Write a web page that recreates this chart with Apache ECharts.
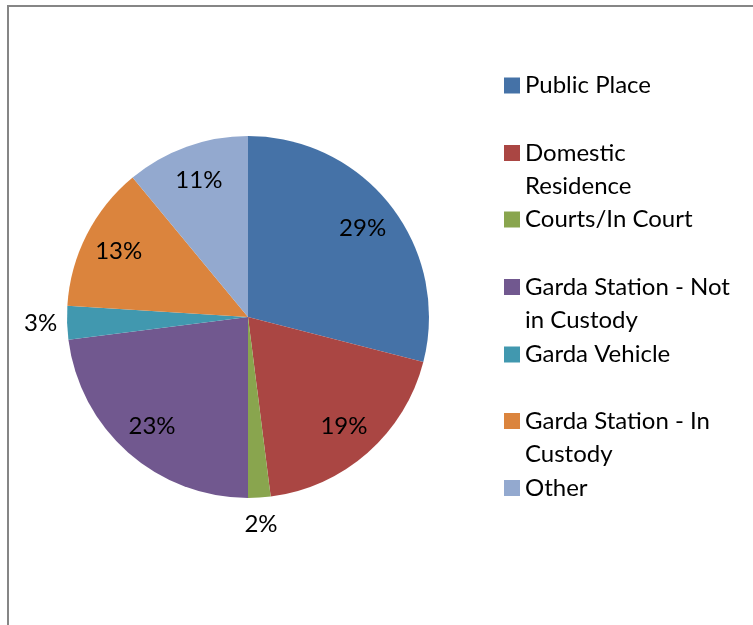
<!DOCTYPE html>
<html>
<head>
<meta charset="utf-8">
<script src="https://cdn.jsdelivr.net/npm/echarts@6/dist/echarts.min.js"></script>
<style>
  html, body { margin: 0; padding: 0; background: #fff; }
  #chart { position: absolute; left: 0; top: 0; width: 753px; height: 625px; }
  #frame {
    position: absolute; left: 7px; top: 5px; width: 746px; height: 620px; z-index: 2;
    border-top: 2px solid #868686; border-left: 2px solid #868686; pointer-events: none;
  }
</style>
</head>
<body>
<div id="chart"></div>
<div id="frame"></div>
<script>
// 数据
const categories = ['Public Place', 'Domestic Residence', 'Courts/In Court', 'Garda Station - Not in Custody', 'Garda Vehicle', 'Garda Station - In Custody', 'Other']
const legendLabels = ['Public Place', 'Domestic\nResidence', 'Courts/In Court', 'Garda Station - Not\nin Custody', 'Garda Vehicle', 'Garda Station - In\nCustody', 'Other']
const shares = [29, 19, 2, 23, 3, 13, 11]
const colors = ['#4572A7', '#AA4643', '#89A54E', '#71588F', '#4198AF', '#DB843D', '#93A9CF']

const FONT = 'Lato'
const FS = 24
const LH = 33
const cx = 248, cy = 317, R = 181
// legend marker centres
const legendCentres = [85.5, 153, 219.5, 287, 354.5, 421, 488]

const chart = echarts.init(document.getElementById('chart'))

const legends = categories.map((name, i) => {
  const twoLines = legendLabels[i].indexOf('\n') >= 0
  return {
    data: [name],
    left: 504,
    top: twoLines ? legendCentres[i] - LH * 1.5 : legendCentres[i] - LH / 2,
    padding: 0,
    itemWidth: 16,
    itemHeight: 16,
    itemGap: 0,
    selectedMode: false,
    icon: 'rect',
    // 两行文字：在前面加一个空行，让方块对齐第一行
    formatter: () => (twoLines ? '\n' : '') + legendLabels[i],
    textStyle: {
      fontFamily: FONT,
      fontSize: FS,
      color: '#000',
      lineHeight: LH
    }
  }
})

const labelStyle = {
  show: true,
  position: 'inside',
  formatter: '{c}%',
  fontFamily: FONT,
  fontSize: FS,
  color: '#000'
}

const option = {
  backgroundColor: '#fff',
  animation: false,
  color: colors,
  legend: legends,
  series: [
    {
      name: 'main',
      type: 'pie',
      center: [cx, cy],
      radius: R,
      startAngle: 90,
      clockwise: true,
      silent: true,
      label: { show: false },
      labelLine: { show: false },
      data: categories.map((n, i) => ({ name: n, value: shares[i] }))
    },
    {
      // 内部标签
      name: 'innerLabels',
      type: 'pie',
      center: [cx, cy],
      radius: [R * 0.57, R],
      startAngle: 90,
      silent: true,
      itemStyle: { color: 'rgba(0,0,0,0)' },
      labelLine: { show: false },
      data: categories.map((n, i) => ({
        name: n,
        value: shares[i],
        label: Object.assign({}, labelStyle, { show: shares[i] >= 5 })
      }))
    },
    {
      // 外部标签
      name: 'outerLabels',
      type: 'pie',
      center: [cx, cy],
      radius: [R, R * 1.26],
      startAngle: 90,
      silent: true,
      itemStyle: { color: 'rgba(0,0,0,0)' },
      labelLine: { show: false },
      data: categories.map((n, i) => ({
        name: n,
        value: shares[i],
        label: Object.assign({}, labelStyle, { show: shares[i] < 5 })
      }))
    }
  ]
}

chart.setOption(option)
</script>
</body>
</html>
